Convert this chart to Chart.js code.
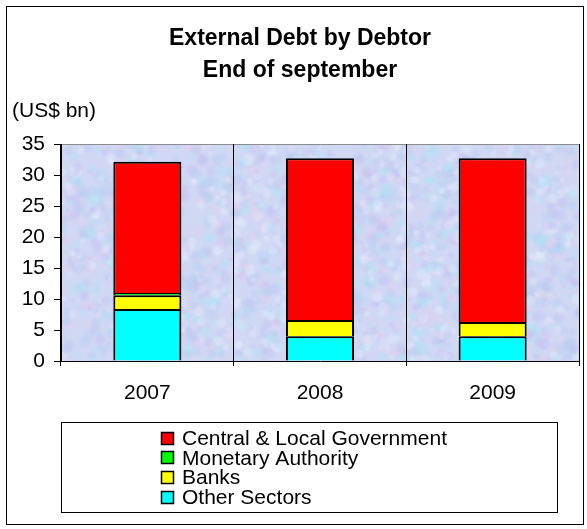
<!DOCTYPE html>
<html>
<head>
<meta charset="utf-8">
<script src="https://cdn.jsdelivr.net/npm/chart.js@4/dist/chart.umd.min.js"></script>
<style>
  html, body { margin: 0; padding: 0; background: #ffffff; }
  #wrap { width: 587px; height: 529px; position: relative; }
</style>
</head>
<body>
<div id="wrap"><canvas id="c" width="587" height="529"></canvas></div>
<script>
// External debt by debtor, end of September (US$ bn)
const years = ['2007', '2008', '2009'];
const otherSectors = [8.4, 4.0, 4.0];
const banks = [2.2, 2.6, 2.3];
const monetaryAuthority = [0.35, 0, 0];
const centralLocalGov = [21.2, 26.1, 26.4];

const yMin = 0;
const yMax = 35;
const yStep = 5;

const titleLines = ['External Debt by Debtor', 'End of september'];
const unitLabel = '(US$ bn)';

const FONT = '"Liberation Sans", Arial, Helvetica, sans-serif';

// Fine mottled "tissue" fill for the plot area
function makeTexture(w, h) {
  const off = document.createElement('canvas');
  off.width = w; off.height = h;
  const g = off.getContext('2d');
  g.fillStyle = 'rgb(208,216,244)';
  g.fillRect(0, 0, w, h);
  const hash = (i) => { const s = Math.sin(i * 12.9898 + 78.233) * 43758.5453; return s - Math.floor(s); };
  const tints = [
    'rgba(175,228,246,0.40)',
    'rgba(196,188,240,0.35)',
    'rgba(232,204,236,0.28)',
    'rgba(236,242,255,0.35)',
    'rgba(185,205,240,0.40)'
  ];
  g.filter = 'blur(1px)';
  for (let i = 0; i < 2600; i++) {
    const x = hash(i) * w;
    const y = hash(i + 5000) * h;
    const r = 1.5 + hash(i + 9000) * 4;
    g.fillStyle = tints[Math.floor(hash(i + 13000) * tints.length)];
    g.beginPath();
    g.arc(x, y, r, 0, Math.PI * 2);
    g.fill();
  }
  g.filter = 'none';
  return off;
}

const plotBackground = {
  id: 'plotBackground',
  beforeDraw(chart) {
    const { ctx, chartArea: a } = chart;
    const w = Math.round(a.right - a.left), h = Math.round(a.bottom - a.top);
    ctx.save();
    ctx.drawImage(makeTexture(w, h), a.left, a.top);
    // grey plot border on top and right
    ctx.strokeStyle = '#8c8c8c';
    ctx.lineWidth = 1;
    ctx.beginPath();
    ctx.moveTo(a.left, Math.round(a.top) + 0.5);
    ctx.lineTo(Math.round(a.right) + 0.5, Math.round(a.top) + 0.5);
    ctx.lineTo(Math.round(a.right) + 0.5, a.bottom);
    ctx.stroke();
    ctx.restore();
  }
};

const frameAndTitles = {
  id: 'frameAndTitles',
  afterDraw(chart) {
    const { ctx } = chart;
    ctx.save();
    // outer frame
    ctx.strokeStyle = '#000';
    ctx.lineWidth = 1;
    ctx.strokeRect(6.5, 6.5, 577, 518);
    // title
    ctx.fillStyle = '#000';
    ctx.font = 'bold 23px ' + FONT;
    ctx.textAlign = 'center';
    ctx.textBaseline = 'alphabetic';
    ctx.fillText(titleLines[0], 300, 45);
    ctx.fillText(titleLines[1], 300, 77);
    // unit label
    ctx.font = '21px ' + FONT;
    ctx.textAlign = 'left';
    ctx.fillText(unitLabel, 12, 117);
    ctx.restore();
  }
};

const boxedLegend = {
  id: 'boxedLegend',
  afterDraw(chart) {
    const { ctx } = chart;
    const ds = chart.data.datasets.slice().reverse();
    ctx.save();
    ctx.strokeStyle = '#000';
    ctx.lineWidth = 1;
    ctx.strokeRect(61.5, 422.5, 496, 90);
    ctx.font = '21px ' + FONT;
    ctx.textAlign = 'left';
    ctx.textBaseline = 'middle';
    ds.forEach((d, i) => {
      const cy = 438 + i * 19.8;
      ctx.fillStyle = d.backgroundColor;
      ctx.fillRect(161, Math.round(cy - 6.5), 13, 13);
      ctx.strokeStyle = '#000';
      ctx.lineWidth = 1.5;
      ctx.strokeRect(161.5, Math.round(cy - 6.5) + 0.5, 12, 12);
      ctx.fillStyle = '#000';
      ctx.fillText(d.label, 182, cy + 1);
    });
    ctx.restore();
  }
};

const barStyle = { borderColor: '#000000', borderWidth: 2, borderSkipped: 'start', barPercentage: 0.394, categoryPercentage: 1 };

new Chart(document.getElementById('c'), {
  type: 'bar',
  data: {
    labels: years,
    datasets: [
      Object.assign({ label: 'Other Sectors', data: otherSectors, backgroundColor: '#00FFFF' }, barStyle),
      Object.assign({ label: 'Banks', data: banks, backgroundColor: '#FFFF00' }, barStyle),
      Object.assign({ label: 'Monetary Authority', data: monetaryAuthority, backgroundColor: '#00FF00' }, barStyle),
      Object.assign({ label: 'Central & Local Government', data: centralLocalGov, backgroundColor: '#FF0000' }, barStyle)
    ]
  },
  options: {
    responsive: false,
    animation: false,
    devicePixelRatio: 1,
    layout: { padding: { top: 144, right: 8, bottom: 108, left: 0 } },
    plugins: {
      legend: { display: false },
      title: { display: false },
      tooltip: { enabled: false }
    },
    scales: {
      x: {
        stacked: true,
        offset: true,
        grid: {
          offset: true,
          drawOnChartArea: true,
          drawTicks: true,
          tickLength: 5,
          color: (c) => (c.index === years.length ? '#8c8c8c' : '#000000'),
          lineWidth: 1
        },
        border: { display: true, color: '#000000', width: 1 },
        ticks: { color: '#000000', font: { family: FONT, size: 21 }, padding: 15, maxRotation: 0 },
        afterFit(scale) { scale.height = 60; }
      },
      y: {
        stacked: true,
        min: yMin,
        max: yMax,
        ticks: { stepSize: yStep, color: '#000000', font: { family: FONT, size: 21 }, padding: 9 },
        grid: { drawOnChartArea: false, drawTicks: true, tickLength: 7, color: '#000000', lineWidth: 1 },
        border: { display: true, color: '#000000', width: 1 },
        afterFit(scale) { scale.width = 61; }
      }
    }
  },
  plugins: [plotBackground, frameAndTitles, boxedLegend]
});
</script>
</body>
</html>
